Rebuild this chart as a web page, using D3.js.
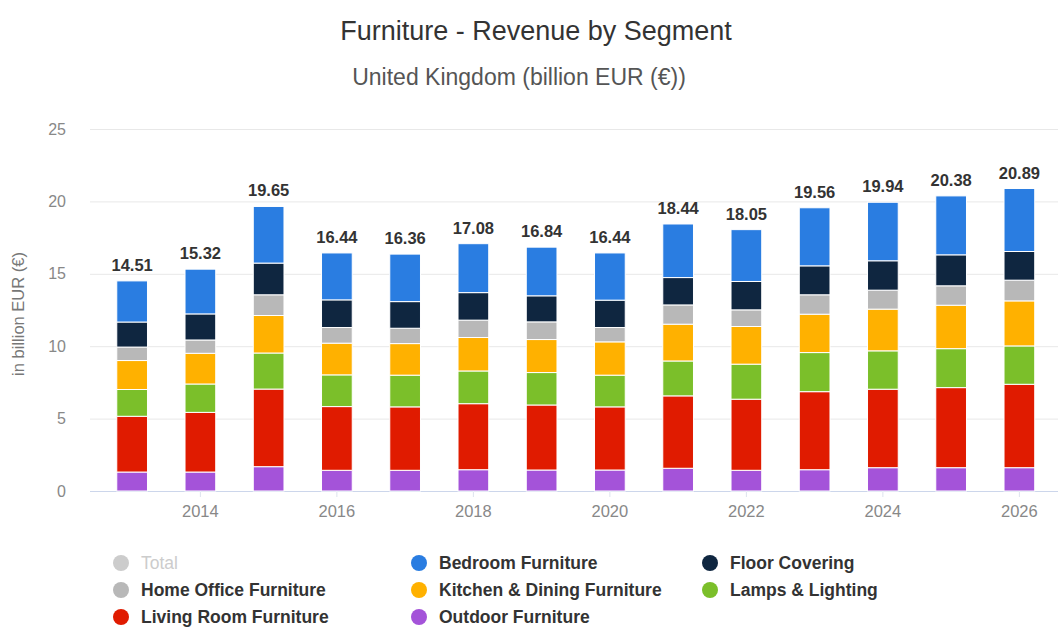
<!DOCTYPE html>
<html>
<head>
<meta charset="utf-8">
<script src="https://cdn.jsdelivr.net/npm/d3@7"></script>
<style>
  html, body { margin: 0; padding: 0; background: #fff; }
  svg { display: block; font-family: "Liberation Sans", Arial, Helvetica, sans-serif; }
</style>
</head>
<body>
<svg id="chart" width="1060" height="628"></svg>
<script>
const years = [2013, 2014, 2015, 2016, 2017, 2018, 2019, 2020, 2021, 2022, 2023, 2024, 2025, 2026];
const totals = [14.51, 15.32, 19.65, 16.44, 16.36, 17.08, 16.84, 16.44, 18.44, 18.05, 19.56, 19.94, 20.38, 20.89];
const outdoorFurniture    = [1.31, 1.31, 1.68, 1.43, 1.43, 1.47, 1.45, 1.45, 1.57, 1.43, 1.47, 1.61, 1.61, 1.61];
const livingRoomFurniture = [3.85, 4.12, 5.36, 4.40, 4.38, 4.56, 4.49, 4.36, 5.00, 4.91, 5.39, 5.42, 5.53, 5.76];
const lampsLighting       = [1.85, 1.96, 2.49, 2.19, 2.19, 2.26, 2.24, 2.19, 2.41, 2.42, 2.70, 2.65, 2.69, 2.65];
const kitchenDining       = [2.00, 2.12, 2.59, 2.19, 2.18, 2.31, 2.28, 2.30, 2.54, 2.60, 2.65, 2.88, 3.00, 3.11];
const homeOffice          = [0.93, 0.92, 1.43, 1.08, 1.06, 1.20, 1.22, 0.99, 1.33, 1.15, 1.34, 1.31, 1.34, 1.43];
const floorCovering       = [1.73, 1.80, 2.19, 1.91, 1.84, 1.90, 1.80, 1.89, 1.89, 1.96, 2.00, 2.03, 2.14, 1.98];
const bedroomFurniture    = [2.84, 3.09, 3.91, 3.24, 3.28, 3.38, 3.36, 3.26, 3.70, 3.58, 4.01, 4.04, 4.07, 4.35];
const yTicks = [0, 5, 10, 15, 20, 25];
const xTickYears = [2014, 2016, 2018, 2020, 2022, 2024, 2026];

const series = [
  { key: "Outdoor Furniture", values: outdoorFurniture, color: "#a453d9" },
  { key: "Living Room Furniture", values: livingRoomFurniture, color: "#e01b00" },
  { key: "Lamps & Lighting", values: lampsLighting, color: "#7bbf2a" },
  { key: "Kitchen & Dining Furniture", values: kitchenDining, color: "#ffb100" },
  { key: "Home Office Furniture", values: homeOffice, color: "#b8b8b8" },
  { key: "Floor Covering", values: floorCovering, color: "#0f2640" },
  { key: "Bedroom Furniture", values: bedroomFurniture, color: "#2a7de1" }
];

const legendItems = [
  { label: "Total", color: "#cccccc", text: "#cccccc", bold: false },
  { label: "Bedroom Furniture", color: "#2a7de1" },
  { label: "Floor Covering", color: "#0f2640" },
  { label: "Home Office Furniture", color: "#b8b8b8" },
  { label: "Kitchen & Dining Furniture", color: "#ffb100" },
  { label: "Lamps & Lighting", color: "#7bbf2a" },
  { label: "Living Room Furniture", color: "#e01b00" },
  { label: "Outdoor Furniture", color: "#a453d9" }
];

const rows = years.map((y, i) => {
  const r = { year: y };
  series.forEach(s => { r[s.key] = s.values[i]; });
  return r;
});

const svg = d3.select("#chart");

const x = d3.scaleBand().domain(years).range([98, 1053.5]).paddingInner(0.55).paddingOuter(0.275);
const y = d3.scaleLinear().domain([0, 25]).range([491, 129]);

// Title
svg.append("text").attr("x", 536).attr("y", 40).attr("text-anchor", "middle")
  .attr("font-size", 27).attr("fill", "#333").text("Furniture - Revenue by Segment");
svg.append("text").attr("x", 519).attr("y", 85).attr("text-anchor", "middle")
  .attr("font-size", 23).attr("fill", "#555").text("United Kingdom (billion EUR (€))");

// Gridlines
const yAxis = d3.axisLeft(y).tickValues(yTicks).tickSize(-968).tickPadding(24);
const gy = svg.append("g").attr("transform", "translate(90,0)").call(yAxis);
gy.select(".domain").remove();
gy.selectAll(".tick line").attr("stroke", "#e8e8e8");
gy.selectAll(".tick text").attr("font-size", 16).attr("fill", "#888")
  .attr("font-family", "Liberation Sans, Arial, sans-serif");

// Y axis title
svg.append("text").attr("transform", "translate(24,314) rotate(-90)")
  .attr("text-anchor", "middle").attr("font-size", 16.5).attr("fill", "#777")
  .text("in billion EUR (€)");

// X axis
const xAxis = d3.axisBottom(x).tickValues(xTickYears).tickSize(6).tickPadding(8);
const gx = svg.append("g").attr("transform", "translate(0,491)").call(xAxis);
gx.select(".domain").attr("d", "M90,0.5H1058").attr("stroke", "#ccd6eb").attr("stroke-width", 1);
gx.selectAll(".tick line").attr("stroke", "#dde3ee");
gx.selectAll(".tick text").attr("font-size", 16.5).attr("fill", "#888")
  .attr("font-family", "Liberation Sans, Arial, sans-serif");

// Stacked bars
const stack = d3.stack().keys(series.map(s => s.key));
const stacked = stack(rows);
const layers = svg.append("g").selectAll("g").data(stacked).join("g")
  .attr("fill", (d, i) => series[i].color);
layers.selectAll("rect").data(d => d).join("rect")
  .attr("x", d => x(d.data.year))
  .attr("width", x.bandwidth())
  .attr("y", d => y(d[1]))
  .attr("height", d => y(d[0]) - y(d[1]))
  .attr("stroke", "#fff").attr("stroke-width", 1);

// Total labels
svg.append("g").selectAll("text").data(years).join("text")
  .attr("x", d => x(d) + x.bandwidth() / 2)
  .attr("y", (d, i) => y(d3.sum(series, s => s.values[i])) - 10)
  .attr("text-anchor", "middle").attr("font-size", 16.5).attr("font-weight", "bold")
  .attr("fill", "#333").text((d, i) => totals[i].toFixed(2));

// Legend
const colX = [121, 419, 710];
const rowY = [563, 590, 617];
const lg = svg.append("g");
legendItems.forEach((it, i) => {
  const cx = colX[i % 3], cy = rowY[Math.floor(i / 3)];
  lg.append("circle").attr("cx", cx).attr("cy", cy).attr("r", 8).attr("fill", it.color);
  lg.append("text").attr("x", cx + 20).attr("y", cy + 6)
    .attr("font-size", 17.5).attr("font-weight", it.bold === false ? "normal" : "bold")
    .attr("fill", it.text || "#333").text(it.label);
});
</script>
</body>
</html>
